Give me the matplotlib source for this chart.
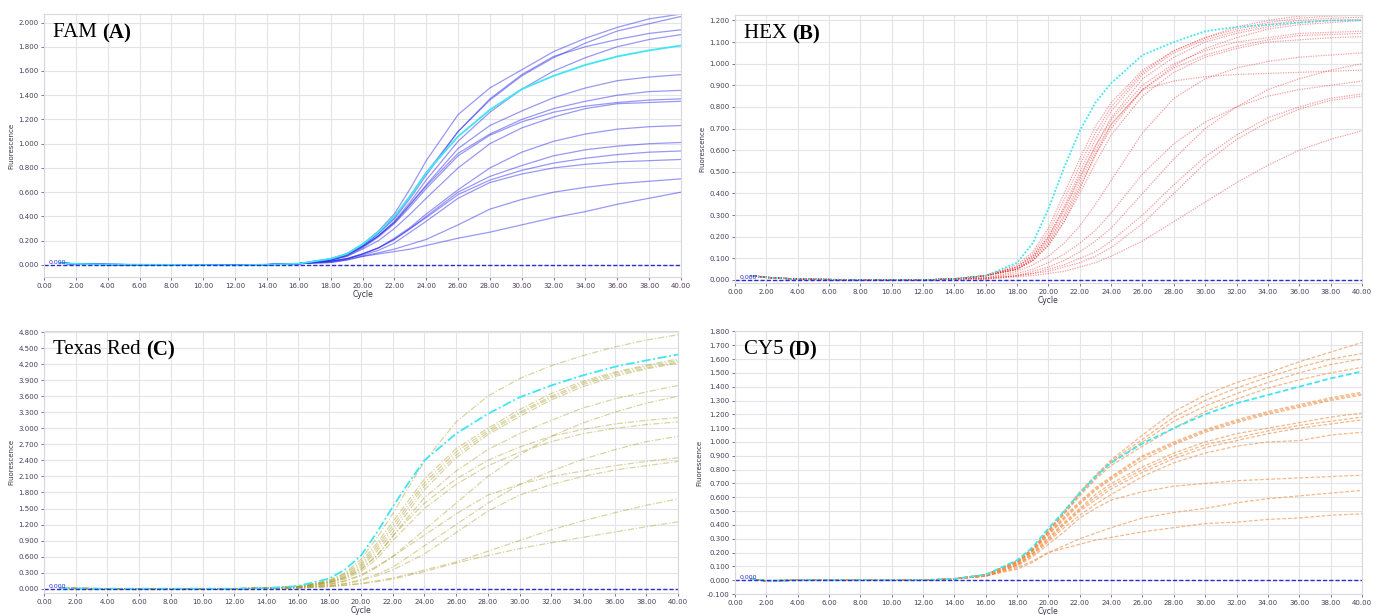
#!/usr/bin/env python3

import numpy as np
import matplotlib.pyplot as plt

base_cycles = [1, 2, 4, 8, 12, 14]
rise_cycles = [16, 18, 19, 20, 21, 22, 23, 24, 26, 28, 30, 32, 34, 36, 38, 40]

# ---- FAM (A) ----
fam_base = [0.015, 0.008, 0.003, 0.0, -0.003, 0.002]
fam_cyan = [0.01, 0.05, 0.09, 0.17, 0.27, 0.40, 0.57, 0.76, 1.06, 1.28, 1.45, 1.56, 1.65, 1.72, 1.77, 1.81]
fam_curves = [
    [0.01, 0.05, 0.09, 0.17, 0.28, 0.42, 0.63, 0.86, 1.24, 1.46, 1.61, 1.76, 1.87, 1.96, 2.03, 2.07],
    [0.01, 0.05, 0.09, 0.16, 0.26, 0.38, 0.55, 0.74, 1.10, 1.36, 1.56, 1.71, 1.83, 1.93, 1.99, 2.05],
    [0.01, 0.05, 0.09, 0.16, 0.26, 0.39, 0.57, 0.76, 1.10, 1.37, 1.57, 1.72, 1.80, 1.86, 1.91, 1.94],
    [0.01, 0.04, 0.08, 0.15, 0.24, 0.36, 0.52, 0.70, 1.02, 1.26, 1.45, 1.60, 1.71, 1.80, 1.86, 1.90],
    [0.01, 0.04, 0.08, 0.15, 0.24, 0.35, 0.50, 0.66, 0.96, 1.15, 1.27, 1.38, 1.46, 1.52, 1.55, 1.57],
    [0.01, 0.04, 0.08, 0.15, 0.24, 0.35, 0.50, 0.65, 0.92, 1.08, 1.20, 1.29, 1.35, 1.40, 1.43, 1.44],
    [0.01, 0.04, 0.07, 0.14, 0.23, 0.34, 0.48, 0.63, 0.90, 1.07, 1.18, 1.26, 1.31, 1.34, 1.36, 1.37],
    [0.01, 0.04, 0.07, 0.13, 0.20, 0.30, 0.42, 0.55, 0.80, 1.00, 1.13, 1.22, 1.29, 1.33, 1.34, 1.35],
    [0.01, 0.03, 0.05, 0.09, 0.14, 0.22, 0.31, 0.42, 0.62, 0.80, 0.93, 1.02, 1.08, 1.12, 1.14, 1.15],
    [0.01, 0.03, 0.05, 0.09, 0.14, 0.21, 0.30, 0.40, 0.60, 0.73, 0.82, 0.90, 0.95, 0.98, 1.00, 1.01],
    [0.01, 0.03, 0.05, 0.09, 0.14, 0.21, 0.30, 0.39, 0.58, 0.70, 0.78, 0.84, 0.88, 0.91, 0.93, 0.94],
    [0.01, 0.03, 0.05, 0.08, 0.12, 0.18, 0.27, 0.36, 0.55, 0.68, 0.75, 0.80, 0.83, 0.85, 0.86, 0.87],
    [0.01, 0.02, 0.04, 0.07, 0.10, 0.13, 0.17, 0.21, 0.33, 0.46, 0.54, 0.60, 0.64, 0.67, 0.69, 0.71],
    [0.01, 0.02, 0.04, 0.07, 0.09, 0.11, 0.13, 0.16, 0.22, 0.27, 0.33, 0.39, 0.44, 0.50, 0.55, 0.60],
]

# ---- HEX (B) ----
hex_base = [0.02, 0.012, 0.004, 0.0, 0.0, 0.005]
hex_cyan = [0.02, 0.08, 0.17, 0.33, 0.52, 0.69, 0.82, 0.91, 1.04, 1.10, 1.15, 1.17, 1.18, 1.19, 1.20, 1.20]
hex_curves = [
    [0.02, 0.07, 0.13, 0.24, 0.40, 0.56, 0.71, 0.82, 0.97, 1.06, 1.12, 1.17, 1.20, 1.22, 1.23, 1.235],
    [0.02, 0.06, 0.12, 0.22, 0.37, 0.53, 0.68, 0.80, 0.96, 1.06, 1.12, 1.16, 1.19, 1.21, 1.22, 1.225],
    [0.02, 0.06, 0.11, 0.20, 0.34, 0.50, 0.65, 0.78, 0.95, 1.05, 1.11, 1.15, 1.18, 1.20, 1.21, 1.215],
    [0.02, 0.05, 0.10, 0.19, 0.32, 0.47, 0.62, 0.75, 0.93, 1.03, 1.10, 1.14, 1.17, 1.19, 1.20, 1.205],
    [0.02, 0.05, 0.09, 0.17, 0.29, 0.43, 0.58, 0.70, 0.88, 0.99, 1.07, 1.12, 1.16, 1.18, 1.19, 1.20],
    [0.02, 0.06, 0.11, 0.20, 0.33, 0.48, 0.62, 0.74, 0.90, 1.00, 1.06, 1.10, 1.12, 1.14, 1.145, 1.15],
    [0.02, 0.05, 0.10, 0.18, 0.30, 0.45, 0.60, 0.72, 0.88, 0.98, 1.04, 1.08, 1.11, 1.13, 1.135, 1.14],
    [0.02, 0.05, 0.09, 0.16, 0.27, 0.40, 0.54, 0.67, 0.85, 0.96, 1.03, 1.07, 1.10, 1.11, 1.12, 1.125],
    [0.02, 0.05, 0.09, 0.16, 0.27, 0.42, 0.58, 0.72, 0.88, 0.92, 0.94, 0.95, 0.955, 0.96, 0.965, 0.97],
    [0.01, 0.04, 0.07, 0.11, 0.17, 0.25, 0.35, 0.46, 0.68, 0.84, 0.93, 0.98, 1.01, 1.03, 1.04, 1.05],
    [0.01, 0.02, 0.04, 0.06, 0.09, 0.13, 0.18, 0.24, 0.40, 0.56, 0.70, 0.80, 0.88, 0.93, 0.97, 1.00],
    [0.01, 0.03, 0.05, 0.08, 0.12, 0.17, 0.23, 0.31, 0.49, 0.63, 0.73, 0.80, 0.85, 0.88, 0.90, 0.92],
    [0.005, 0.02, 0.03, 0.05, 0.07, 0.10, 0.13, 0.18, 0.30, 0.44, 0.57, 0.67, 0.75, 0.80, 0.84, 0.86],
    [0.005, 0.02, 0.03, 0.04, 0.06, 0.08, 0.11, 0.15, 0.26, 0.40, 0.54, 0.65, 0.73, 0.79, 0.83, 0.85],
    [0.005, 0.015, 0.02, 0.03, 0.04, 0.06, 0.08, 0.11, 0.18, 0.27, 0.36, 0.45, 0.53, 0.60, 0.65, 0.69],
]

# ---- Texas Red (C) ----
txr_base = [0.01, 0.005, 0.0, 0.0, 0.0, 0.01]
txr_cyan = [0.05, 0.19, 0.36, 0.62, 1.05, 1.53, 1.98, 2.40, 2.90, 3.27, 3.58, 3.80, 3.99, 4.15, 4.27, 4.38]
txr_curves = [
    [0.04, 0.16, 0.30, 0.55, 0.95, 1.40, 1.90, 2.38, 3.12, 3.60, 3.93, 4.17, 4.36, 4.52, 4.65, 4.75],
    [0.04, 0.15, 0.28, 0.50, 0.85, 1.25, 1.65, 2.05, 2.62, 3.00, 3.35, 3.65, 3.88, 4.05, 4.18, 4.30],
    [0.04, 0.14, 0.26, 0.46, 0.80, 1.18, 1.58, 1.98, 2.56, 2.96, 3.30, 3.60, 3.85, 4.03, 4.16, 4.27],
    [0.04, 0.13, 0.24, 0.43, 0.75, 1.12, 1.52, 1.92, 2.50, 2.92, 3.27, 3.57, 3.82, 4.00, 4.13, 4.24],
    [0.03, 0.12, 0.22, 0.40, 0.70, 1.05, 1.45, 1.85, 2.45, 2.88, 3.22, 3.53, 3.78, 3.97, 4.11, 4.22],
    [0.03, 0.12, 0.21, 0.36, 0.62, 0.98, 1.35, 1.70, 2.20, 2.60, 2.90, 3.15, 3.38, 3.55, 3.68, 3.80],
    [0.02, 0.08, 0.14, 0.24, 0.40, 0.60, 0.85, 1.10, 1.60, 2.10, 2.50, 2.85, 3.10, 3.30, 3.47, 3.60],
    [0.03, 0.11, 0.20, 0.36, 0.62, 0.98, 1.30, 1.60, 2.05, 2.40, 2.65, 2.85, 2.98, 3.08, 3.15, 3.20],
    [0.03, 0.10, 0.18, 0.32, 0.56, 0.90, 1.20, 1.50, 1.95, 2.30, 2.55, 2.75, 2.90, 3.00, 3.07, 3.12],
    [0.02, 0.06, 0.10, 0.17, 0.27, 0.40, 0.60, 0.80, 1.20, 1.60, 1.95, 2.20, 2.42, 2.60, 2.75, 2.85],
    [0.02, 0.08, 0.15, 0.26, 0.42, 0.60, 0.80, 1.00, 1.40, 1.75, 1.95, 2.10, 2.20, 2.30, 2.38, 2.45],
    [0.02, 0.05, 0.09, 0.15, 0.24, 0.35, 0.50, 0.65, 1.05, 1.45, 1.75, 1.95, 2.10, 2.22, 2.30, 2.38],
    [0.01, 0.04, 0.07, 0.10, 0.15, 0.20, 0.27, 0.35, 0.50, 0.70, 0.90, 1.10, 1.27, 1.42, 1.56, 1.68],
    [0.01, 0.04, 0.06, 0.09, 0.13, 0.18, 0.25, 0.32, 0.48, 0.62, 0.75, 0.86, 0.96, 1.06, 1.16, 1.25],
]

# ---- CY5 (D) ----
cy5_base = [0.01, -0.005, 0.0, 0.0, 0.0, 0.01]
cy5_cyan = [0.04, 0.145, 0.24, 0.375, 0.50, 0.63, 0.75, 0.85, 0.99, 1.10, 1.20, 1.28, 1.34, 1.40, 1.46, 1.51]
cy5_curves = [
    [0.04, 0.14, 0.23, 0.36, 0.50, 0.64, 0.76, 0.87, 1.05, 1.22, 1.34, 1.43, 1.50, 1.58, 1.65, 1.72],
    [0.04, 0.14, 0.23, 0.36, 0.49, 0.63, 0.75, 0.86, 1.02, 1.18, 1.30, 1.39, 1.47, 1.54, 1.60, 1.64],
    [0.04, 0.13, 0.22, 0.35, 0.48, 0.62, 0.74, 0.85, 1.00, 1.15, 1.26, 1.35, 1.43, 1.50, 1.56, 1.60],
    [0.04, 0.13, 0.22, 0.35, 0.48, 0.61, 0.73, 0.83, 0.97, 1.10, 1.22, 1.31, 1.39, 1.45, 1.50, 1.54],
    [0.04, 0.13, 0.22, 0.34, 0.46, 0.57, 0.67, 0.75, 0.90, 1.00, 1.09, 1.16, 1.22, 1.27, 1.32, 1.36],
    [0.04, 0.13, 0.21, 0.33, 0.45, 0.56, 0.66, 0.74, 0.89, 0.99, 1.08, 1.15, 1.21, 1.26, 1.31, 1.35],
    [0.04, 0.12, 0.21, 0.33, 0.44, 0.55, 0.65, 0.73, 0.87, 0.98, 1.07, 1.14, 1.20, 1.25, 1.30, 1.34],
    [0.03, 0.12, 0.20, 0.31, 0.42, 0.52, 0.62, 0.70, 0.82, 0.92, 1.00, 1.06, 1.10, 1.14, 1.18, 1.21],
    [0.03, 0.11, 0.19, 0.30, 0.41, 0.51, 0.60, 0.68, 0.80, 0.90, 0.98, 1.03, 1.08, 1.12, 1.15, 1.18],
    [0.03, 0.11, 0.19, 0.29, 0.40, 0.50, 0.58, 0.66, 0.78, 0.88, 0.96, 1.01, 1.06, 1.10, 1.13, 1.16],
    [0.03, 0.11, 0.18, 0.28, 0.38, 0.47, 0.55, 0.62, 0.75, 0.85, 0.92, 0.97, 1.00, 1.01, 1.05, 1.07],
    [0.03, 0.10, 0.17, 0.26, 0.35, 0.45, 0.52, 0.58, 0.64, 0.68, 0.70, 0.72, 0.73, 0.74, 0.75, 0.76],
    [0.03, 0.09, 0.14, 0.20, 0.25, 0.30, 0.34, 0.38, 0.45, 0.49, 0.52, 0.56, 0.59, 0.61, 0.63, 0.65],
    [0.03, 0.08, 0.13, 0.20, 0.23, 0.26, 0.29, 0.31, 0.35, 0.38, 0.41, 0.42, 0.44, 0.45, 0.47, 0.48],
]

panels = [
    # name, letter, base, cyan, curves, colour, alpha, style, ylim, yticks, axes rect
    ("FAM", "A", fam_base, fam_cyan, fam_curves, "#2a28e8", 0.48, "-",
     (-0.1, 2.07), np.arange(0, 2.001, 0.2), [0.0319, 0.5496, 0.4616, 0.4276]),
    ("HEX", "B", hex_base, hex_cyan, hex_curves, "#e62a2a", 0.45, (0, (1, 1)),
     (-0.014, 1.225), np.arange(0, 1.201, 0.1), [0.5326, 0.5398, 0.4543, 0.4358]),
    ("Texas Red", "C", txr_base, txr_cyan, txr_curves, "#a89a22", 0.42, (0, (5, 1.5, 1, 1.5)),
     (-0.08, 4.82), np.arange(0, 4.801, 0.3), [0.0319, 0.0358, 0.4594, 0.4260]),
    ("CY5", "D", cy5_base, cy5_cyan, cy5_curves, "#ef8a3c", 0.6, (0, (3, 1.5)),
     (-0.1, 1.803), np.arange(-0.1, 1.801, 0.1), [0.5326, 0.0341, 0.4543, 0.4277]),
]

fig = plt.figure(figsize=(13.8, 6.15), dpi=100)
tick_col = "#4a3c5a"

for name, letter, base, cyan, curves, col, alp, ls, ylim, yticks, rect in panels:
    ax = fig.add_axes(rect)
    x = base_cycles + rise_cycles
    for c in curves:
        ax.plot(x, base + c, color=col, ls=ls, lw=0.9, alpha=alp)
    ax.plot(x, base + cyan, color="#3fe6f2", ls=ls, lw=1.3)
    # threshold line
    ax.axhline(0, color="#2b2bd0", ls=(0, (3, 1.5)), lw=1.0)
    ax.text(0.3, 0.0, "0.000", color="#2b2bd0", fontsize=4.5, va="bottom")

    ax.set_xlim(0, 40)
    ax.set_ylim(*ylim)
    ax.set_xticks(np.arange(0, 40.1, 2))
    ax.set_xticklabels(["%.2f" % v for v in np.arange(0, 40.1, 2)])
    ax.set_yticks(yticks)
    ax.set_yticklabels(["%.3f" % v for v in yticks])
    ax.tick_params(labelsize=5, colors=tick_col, length=2, width=0.5, pad=2)
    ax.grid(True, color="#e3e3ea", lw=0.8)
    ax.set_axisbelow(True)
    for s in ax.spines.values():
        s.set_color("#d8d8e0")
        s.set_linewidth(0.8)
    ax.set_xlabel("Cycle", fontsize=5.5, color="#333344", labelpad=1)
    ax.set_ylabel("Fluorescence", fontsize=5, color="#333344", labelpad=3)

    ax.text(0.014, 0.965, name + " ", transform=ax.transAxes, fontsize=15,
            family="Liberation Serif", va="top", ha="left")
    t = ax.texts[-1]
    fig.canvas.draw()
    bb = t.get_window_extent().transformed(ax.transAxes.inverted())
    ax.text(bb.x1, 0.965, "(" + letter + ")", transform=ax.transAxes, fontsize=15,
            family="Liberation Serif", weight="bold", va="top", ha="left")

fig.savefig("out.png", dpi=100)
